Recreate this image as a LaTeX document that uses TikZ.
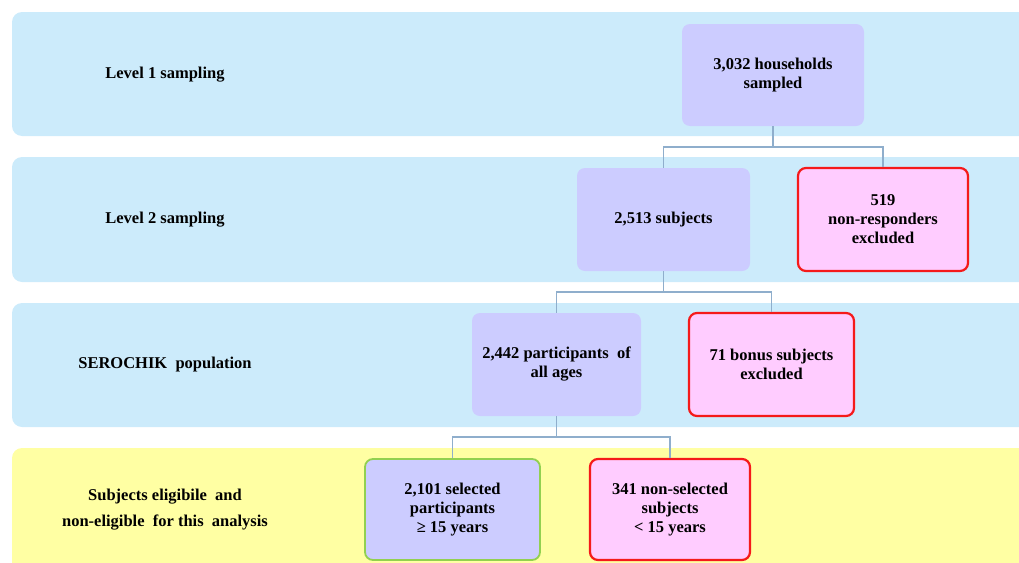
\documentclass[tikz,border=0pt]{standalone}
\usepackage{fontspec}
\setmainfont{Liberation Serif}[BoldFont={Liberation Serif Bold}]
\usetikzlibrary{positioning,calc}
\definecolor{bandblue}{HTML}{CCEBFB}
\definecolor{bandyellow}{HTML}{FFFFA3}
\definecolor{boxlilac}{HTML}{CCCCFF}
\definecolor{boxpink}{HTML}{FFCCFF}
\definecolor{linkblue}{HTML}{8FAECC}
\definecolor{rimred}{HTML}{F51A1A}
\definecolor{rimgreen}{HTML}{92D050}

\begin{document}
\begin{tikzpicture}[x=1pt,y=-1pt]
\tikzset{band/.style={rounded corners=10pt}}
\tikzset{stage/.style={fill=boxlilac, rounded corners=8pt, align=center,
  inner sep=0pt, minimum height=103pt,
  font=\rmfamily\bfseries\fontsize{16.5}{19}\selectfont}}
\tikzset{dropped/.style={stage, fill=boxpink, draw=rimred, line width=2.2pt}}
\tikzset{kept/.style={stage, draw=rimgreen, line width=1.8pt}}
\tikzset{levellabel/.style={align=center, font=\rmfamily\bfseries\fontsize{16.5}{26}\selectfont}}
\tikzset{branch/.style={draw=linkblue, line width=1.5pt,
  to path={(\tikztostart.south) -- +(0,21) -| (\tikztotarget.north)}}}
\useasboundingbox (0,0) rectangle (1019,562);
\clip (0,0) rectangle (1019,562);
% bands
\fill[band, bandblue] (12,12) rectangle (1040,136);
\fill[band, bandblue] (12,157) rectangle (1040,282);
\fill[band, bandblue] (12,303) rectangle (1040,427);
\fill[band, bandyellow] (12,448) rectangle (1040,590);
% row labels
\node[levellabel] (lab1) at (165,75) {Level 1 sampling};
\node[levellabel] (lab2) at (165,220) {Level 2 sampling};
\node[levellabel] (lab3) at (165,365) {SEROCHIK\ \ population};
\node[levellabel] (lab4) at (165,510) {Subjects eligibile\ \ and\\non-eligible\ \ for this\ \ analysis};
% boxes
\node[stage, minimum width=182pt, minimum height=102pt] (households) at (773,75) {3,032 households\\sampled};
\node[stage, minimum width=173pt] (subjects) at (663.5,219.5) {2,513 subjects};
\node[dropped, minimum width=170pt] (nonresp) at (883,219.5) {519\\non-responders\\excluded};
\node[stage, minimum width=169pt] (allages) at (556.5,364.5) {2,442 participants\ \ of\\all ages};
\node[dropped, minimum width=165pt] (bonus) at (771.5,364.5) {71 bonus subjects\\excluded};
\node[kept, minimum width=175pt, minimum height=101pt] (adults) at (452.5,509.5) {2,101 selected\\participants\\≥ 15 years};
\node[dropped, minimum width=160pt, minimum height=101pt] (children) at (670,509.5) {341 non-selected\\subjects\\< 15 years};
% links
\draw[branch] (households) to (subjects);
\draw[branch] (households) to (nonresp);
\draw[branch] (subjects) to (allages);
\draw[branch] (subjects) to (bonus);
\draw[branch] (allages) to (adults);
\draw[branch] (allages) to (children);
\end{tikzpicture}
\end{document}
